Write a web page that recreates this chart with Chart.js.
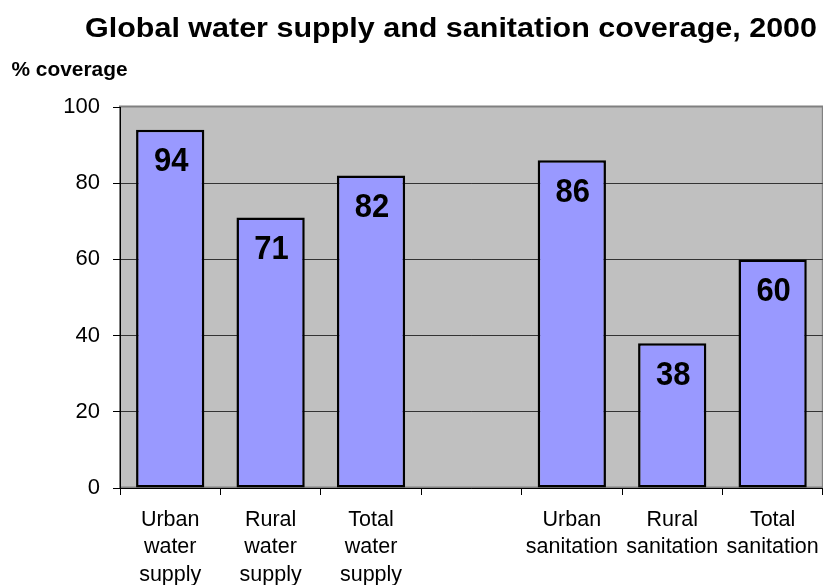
<!DOCTYPE html>
<html>
<head>
<meta charset="utf-8">
<script src="https://cdn.jsdelivr.net/npm/chart.js@4.4.1/dist/chart.umd.min.js"></script>
<style>
  html, body { margin: 0; padding: 0; background: #fff; overflow: hidden; }
  #wrap { position: relative; width: 830px; height: 585px; }
</style>
</head>
<body>
<div id="wrap"><canvas id="c" width="830" height="585"></canvas></div>
<script>
const chartTitle = "Global water supply and sanitation coverage, 2000";
const yAxisTitle = "% coverage";
const categories = [
  ["Urban", "water", "supply"],
  ["Rural", "water", "supply"],
  ["Total", "water", "supply"],
  "",
  ["Urban", "sanitation"],
  ["Rural", "sanitation"],
  ["Total", "sanitation"]
];
const coverage = [94, 71, 82, null, 86, 38, 60];
const yTicks = [0, 20, 40, 60, 80, 100];

const FONT = "'Liberation Sans', Arial, Helvetica, sans-serif";

const plotBg = {
  id: 'plotBg',
  beforeDraw(chart) {
    const {ctx, chartArea: a} = chart;
    ctx.save();
    ctx.fillStyle = '#C0C0C0';
    ctx.fillRect(a.left, a.top, a.right - a.left, a.bottom - a.top);
    ctx.strokeStyle = '#808080';
    ctx.lineWidth = 2;
    ctx.strokeRect(a.left, a.top - 0.5, a.right - a.left, a.bottom - a.top);
    ctx.restore();
  }
};

const texts = {
  id: 'texts',
  afterDraw(chart) {
    const ctx = chart.ctx;
    ctx.save();
    ctx.fillStyle = '#000';
    ctx.textBaseline = 'alphabetic';
    // title
    ctx.font = 'bold 28px ' + FONT;
    let w = ctx.measureText(chartTitle).width;
    let target = 732;
    ctx.save();
    ctx.translate(85, 37);
    ctx.scale(target / w, 1);
    ctx.textAlign = 'left';
    ctx.fillText(chartTitle, 0, 0);
    ctx.restore();
    // y axis title
    ctx.font = 'bold 20px ' + FONT;
    w = ctx.measureText(yAxisTitle).width;
    target = 116;
    ctx.save();
    ctx.translate(11.5, 76);
    ctx.scale(target / w, 1);
    ctx.textAlign = 'left';
    ctx.fillText(yAxisTitle, 0, 0);
    ctx.restore();
    ctx.restore();
  },
  afterDatasetsDraw(chart) {
    const ctx = chart.ctx;
    const meta = chart.getDatasetMeta(0);
    ctx.fillStyle = '#000';
    meta.data.forEach((bar, i) => {
      const v = coverage[i];
      if (v === null || v === undefined) return;
      ctx.save();
      ctx.font = 'bold 31px ' + FONT;
      ctx.textAlign = 'center';
      ctx.textBaseline = 'alphabetic';
      ctx.translate(bar.x + 1, bar.y + 41.5);
      ctx.scale(1, 1.08);
      ctx.fillText(String(v), 0, 0);
      ctx.restore();
    });
  }
};

new Chart(document.getElementById('c'), {
  type: 'bar',
  data: {
    labels: categories,
    datasets: [{
      data: coverage,
      backgroundColor: '#9999FF',
      borderColor: '#000000',
      borderWidth: 2.5,
      borderSkipped: false,
      barPercentage: 0.68,
      categoryPercentage: 1.0
    }]
  },
  options: {
    responsive: false,
    animation: false,
    devicePixelRatio: 1,
    layout: { padding: { top: 107, right: 5, left: 0, bottom: 0 } },
    plugins: {
      legend: { display: false },
      title: { display: false },
      tooltip: { enabled: false }
    },
    scales: {
      x: {
        offset: true,
        grid: {
          offset: true,
          drawOnChartArea: false,
          drawTicks: true,
          tickLength: 7,
          color: '#000',
          tickColor: '#000'
        },
        border: { display: true, color: '#000', width: 1 },
        ticks: {
          color: '#000',
          font: { family: FONT, size: 21.5, lineHeight: 1.28 },
          padding: 11,
          maxRotation: 0,
          minRotation: 0,
          autoSkip: false
        },
        afterFit(scale) { scale.height = 97; }
      },
      y: {
        min: 0,
        max: 100,
        afterBuildTicks(scale) { scale.ticks = yTicks.map(v => ({ value: v })); },
        grid: {
          color: (c) => (c.tick && c.tick.value === 100) ? 'rgba(0,0,0,0)' : '#333',
          tickColor: '#000',
          tickLength: 7,
          lineWidth: 1
        },
        border: { display: true, color: '#000', width: 1 },
        ticks: {
          color: '#000',
          font: { family: FONT, size: 22 },
          padding: 13
        },
        afterFit(scale) { scale.width = 120; }
      }
    }
  },
  plugins: [plotBg, texts]
});
</script>
</body>
</html>
